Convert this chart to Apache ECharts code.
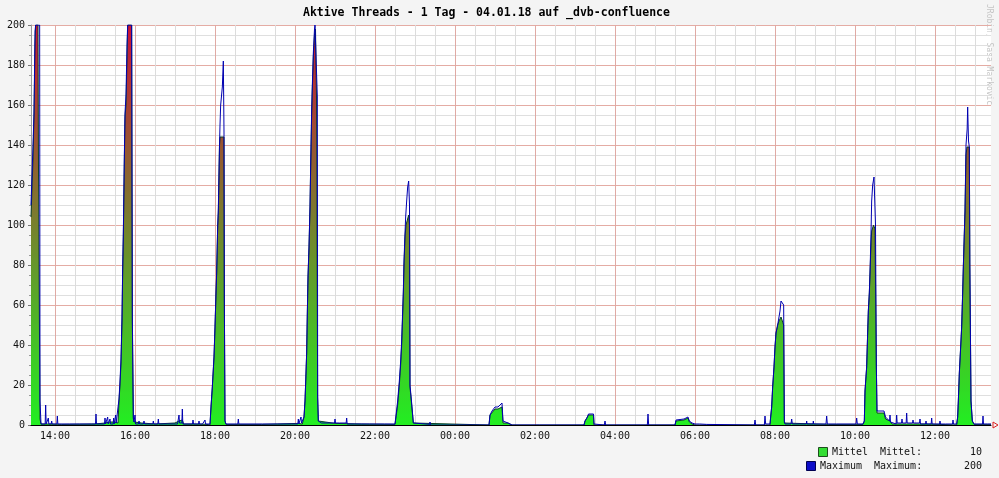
<!DOCTYPE html>
<html>
<head>
<meta charset="utf-8">
<script src="https://cdn.jsdelivr.net/npm/echarts@6/dist/echarts.min.js"></script>
<style>
html,body{margin:0;padding:0;background:#f4f4f4;}
#chart{width:999px;height:478px;}
</style>
</head>
<body>
<div id="chart"></div>
<script>
// time in minutes since 00:00 on 04.01.18 (values > 1440 are on the next day)
const startTime = 804;   // 13:24
const endTime = 2244;    // 13:24 next day
const firstMinorTime = 810;  // 13:30
const firstMajorTime = 840;  // 14:00
const minorStep = 30;
const majorStep = 120;
const titleText = 'Aktive Threads - 1 Tag - 04.01.18 auf _dvb-confluence';

const majorTickTimes = [840, 960, 1080, 1200, 1320, 1440, 1560, 1680, 1800, 1920, 2040, 2160];
const majorTickLabels = ['14:00','16:00','18:00','20:00','22:00','00:00','02:00','04:00','06:00','08:00','10:00','12:00'];

const seriesNames = ['Mittel', 'Maximum'];
const statLabels = ['Mittel:', 'Maximum:'];
const statValues = ['10', '200'];

// Mittel (average) [time, threads]
const mittel = [
  [804,104],[806.25,104],[807,133],[808.5,155],[810,190],[811,200],[814.5,200],[815.25,128],[817,128],[817.5,3],[819,0.5],
  [831,0.5],[850,0.3],[900,0.5],[915,1],[922,1.5],[929,1.5],[931,2],[934.5,1],
  [936,12],[937.5,20],[939,31],[940.5,52],[941.5,76],[942.5,94],[944,132],[945,154],[946.5,160],[948,183],[949,200],[955,200],[956,52],[957.5,3],[959,1.5],
  [970,1],[990,0.5],[1020,1],[1026,2],[1031,2.5],[1033,0.5],[1050,0.5],[1068,0.3],
  [1072.5,0],[1074,9],[1076,19],[1078.5,34],[1080,49],[1081.5,66],[1082.5,76],[1084,99],[1085,106],[1086.75,140],[1087.5,144],[1093.5,144],[1094,64],[1095,2],[1096.5,0.3],
  [1150,0.3],[1205,0.8],[1211,0.5],
  [1212.5,0.5],[1213.5,4],[1215,12],[1216,21],[1217.5,36],[1218.5,56],[1219.5,74],[1221,89],[1222.5,109],[1223.5,129],[1225,155],[1226,168],[1227.5,184],[1229.25,195],[1230.75,198],[1232.25,164],[1233.5,164],[1234,14],[1235,2],[1236,1],
  [1260,0.8],[1300,0.5],[1350,0.3],
  [1352.5,0],[1354,10],[1356.5,20],[1358.5,30],[1360,40],[1361,50],[1362.5,65],[1363.5,80],[1365,94],[1366.5,100],[1370.5,105],[1371.75,100],[1372.5,19],[1375,10],[1377.5,1],[1380,0],
  [1491,0],[1492.5,5],[1495.5,6],[1500,8],[1504.5,8],[1507.5,9],[1510.5,9],[1512,1],[1519.5,1],[1525.5,0],
  [1633.5,0],[1635,2],[1638,3],[1640.25,5],[1647.75,5],[1648.5,0],
  [1770,0],[1771.5,2],[1774.5,2.5],[1783.5,2.5],[1785,3.5],[1789.5,3.5],[1791.5,1.5],[1795.5,0.5],[1800,0],
  [1912.5,0],[1913.5,4],[1915,9],[1916.5,19],[1918.5,29],[1920,39],[1921.5,46],[1924,50],[1926,52],[1929,54],[1931,55],[1933,50],[1934,1],[1935,0.3],
  [2000,0.3],
  [2052,0.3],[2054,2],[2055,17],[2057.5,29],[2059,46],[2060,57],[2061.5,66],[2062.5,76],[2064,90],[2065,97],[2067.75,100],[2070,98],[2070.75,98],[2072,30],[2073,6],[2083.5,6],[2085.75,3],[2092.5,2],[2095.5,0.5],
  [2150,0.5],
  [2192.5,0],[2194,4],[2195,12],[2196.5,26],[2198.5,39],[2200,49],[2201.5,66],[2202.5,79],[2204,96],[2205,107],[2206.5,135],[2208,139],[2211.5,139],[2212.25,81],[2214,12],[2216,2],[2218.5,0.3],[2244,0.3]
];

// Maximum [time, threads]
const maximum = [
  [804,110],[807,140],[808.5,156],[810,197],[811,200],[817,200],[817.5,12],[819,0.5],
  [825.25,0.5],[826,10],[826.75,0.5],[829.25,0.5],[830,3.5],[830.75,0.5],[834.25,0.5],[835,2],[835.75,0.5],[842.75,0.5],[843.5,4.5],[844.25,0.5],
  [862,0.5],[862.5,1],[863,0.5],[877,0.5],[877.5,1],[878,0.5],[894.5,0.5],[895,1.5],[895.5,0.5],[900.75,0.5],[901.5,5.5],[902.25,0.5],
  [914.25,0.5],[915,3.5],[915.75,0.5],[918.25,0.5],[919,4],[919.75,0.5],[921.75,0.5],[922.5,3],[923.25,0.5],[927.25,0.5],[928,3.5],[928.75,0.5],[930.25,0.5],[931,5],[931.75,1],[934.5,2],
  [936,13],[937.5,22],[939,33],[940.5,54],[941.5,78],[942.5,96],[944,134],[945,156],[946.5,165],[948,190],[949,200],[955,200],[956,55],[957.5,4],
  [958.5,1.5],[959.25,0.5],[960,5],[960.75,0.5],[965.25,0.5],[966,2],[966.75,0.5],[972.75,0.5],[973.5,2],[974.25,0.5],[986.75,0.5],[987.5,2],[988.25,0.5],
  [994.25,0.5],[995,3],[995.75,0.5],[1009.25,0.5],[1010,1.5],[1010.75,0.5],[1023.75,0.5],[1024.5,2],[1025.25,1],[1026,5],[1026.75,1],[1030.25,1],[1031,8],[1031.75,0.5],
  [1046.25,0.5],[1047,2.5],[1047.75,0.5],[1049.25,0.5],[1050,1.5],[1050.75,0.5],[1055.25,0.5],[1056,2],[1056.75,0.5],[1061.25,0.5],[1062,1.5],[1062.75,0.5],[1064.25,0.5],[1065,2.5],[1065.75,0.5],
  [1072.5,0.5],[1074,9],[1076,19],[1078.5,34],[1080,49],[1081.5,66],[1082.5,76],[1084,99],[1085,108],[1086.75,140],[1087.5,150],[1088.5,160],[1091,169],[1092.5,182],[1093.5,146],[1094,64],[1095,2],
  [1096.5,0.5],[1114.25,0.5],[1115,3],[1115.75,0.5],[1151.25,0.5],[1152,1.5],[1152.75,0.5],[1173.75,0.5],[1174.5,1.5],[1175.25,0.5],[1194.75,0.5],[1195.5,1.5],[1196.25,0.5],
  [1204.25,0.5],[1205,3],[1205.75,0.5],[1208.25,0.5],[1209,4],[1209.75,1],
  [1212.5,1],[1213.5,4],[1215,12],[1216,21],[1217.5,36],[1218.5,56],[1219.5,74],[1221,89],[1222.5,109],[1223.5,129],[1225,158],[1226,170],[1227.5,186],[1229.25,198],[1230,200],[1232.25,200],[1233.5,164],[1234,14],[1235,2],
  [1236,1],[1239.75,1],[1240.5,2],[1241.25,1],[1251.75,1],[1252.5,2],[1253.25,1],[1259.25,1],[1260,3],[1260.75,1],[1266.75,1],[1267.5,2],[1268.25,1],[1276.75,1],[1277.5,3.5],[1278.25,0.5],
  [1289.25,0.5],[1290,1.5],[1290.75,0.5],[1311.75,0.5],[1312.5,1.5],[1313.25,0.5],[1334.25,0.5],[1335,1.5],[1335.75,0.5],[1350,0.5],
  [1352.5,1],[1354,12],[1356.5,22],[1358.5,32],[1360,42],[1361,52],[1362.5,67],[1363.5,82],[1365,96],[1366,104],[1367.5,112],[1369,119],[1370.5,122],[1371.75,110],[1372.5,20],[1375,11],[1377.5,1],
  [1380,0.3],[1402,0.3],[1402.5,1.5],[1403,0],[1432,0],[1432.5,0.8],[1433,0],[1477,0],[1477.5,0.8],[1478,0],
  [1491,0],[1492.5,5],[1495.5,7],[1500,9],[1504.5,9],[1507.5,10],[1510.5,11],[1512,2],[1519.5,1],[1525.5,0],
  [1567,0],[1567.5,0.8],[1568,0],
  [1633.5,0],[1635,2],[1638,3.5],[1640.25,5.5],[1647.75,5.5],[1648.5,0.5],
  [1664,0],[1665,2],[1666,0],[1728.5,0],[1729.5,5.5],[1730.5,0],
  [1770,0],[1771.5,2.5],[1774.5,3],[1783.5,3],[1785,4],[1789.5,4],[1791.5,2],[1795.5,1],[1800,0.5],
  [1807,0.5],[1807.5,1.5],[1808,0.3],[1817.5,0.3],[1818,1],[1818.5,0],[1889,0],[1890,2.5],[1891,0],[1904,0],[1905,4.5],[1906,0.5],
  [1912.5,0.5],[1913.5,4],[1915,9],[1916.5,19],[1918.5,29],[1920,39],[1921.5,46],[1924,50],[1926,54],[1927.5,57],[1929,62],[1931,63],[1933,60],[1934,2],[1935,0.5],
  [1944,0.5],[1945,3],[1946,0.5],[1957,0.5],[1957.5,1.5],[1958,0.5],[1967,0.5],[1967.5,2],[1968,0.5],[1977,0.5],[1977.5,2],[1978,0.5],
  [1996.5,0.5],[1997.5,4.5],[1998.5,0.5],[2012,0.5],[2012.5,1.5],[2013,0.5],[2022,0.5],[2022.5,1.2],[2023,0.5],[2041.5,0.5],[2042.5,3.5],[2043.5,0.5],
  [2052,0.5],[2054,2],[2055,17],[2057.5,29],[2059,46],[2060,57],[2061.5,66],[2062.5,76],[2064,96],[2065,112],[2066.5,120],[2068.5,124],[2070,123],[2070.75,100],[2072,30],[2073,7],[2083.5,7],[2085.75,4],
  [2091.75,2],[2092.5,5],[2093.25,1.5],[2101.75,0.5],[2102.5,5],[2103.25,1],[2109.75,1],[2110.5,3],[2111.25,1],[2116.75,1],[2117.5,6],[2118.25,1],
  [2126.25,1],[2127,2.5],[2127.75,1],[2136.75,1],[2137.5,3],[2138.25,0.5],[2145.75,0.5],[2146.5,2],[2147.25,0.5],[2154.25,0.5],[2155,3.5],[2155.75,0.5],
  [2166.75,0.5],[2167.5,2],[2168.25,0.5],[2175.75,0.5],[2176.5,1.5],[2177.25,0.5],[2186.25,0.5],[2187,2.5],[2187.75,0.5],
  [2192.5,0.5],[2194,4],[2195,12],[2196.5,26],[2198.5,39],[2200,49],[2201.5,66],[2202.5,79],[2204,96],[2205,107],[2206.5,140],[2208.25,148],[2209,159],[2210.25,142],[2211.5,139],[2212.25,81],[2214,12],[2216,2],[2218.5,0.5],
  [2231.25,0.5],[2232,4.5],[2232.75,0.5],[2238.75,0.5],[2239.5,1.5],[2240.25,0.5],[2244,0.5]
];

const MONO = 'DejaVu Sans Mono';
const chart = echarts.init(document.getElementById('chart'), null, {renderer: 'canvas'});

const plotLeft = 31, plotRight = 8, plotTop = 25, plotBottom = 53;
const pxPerMin = (999 - plotLeft - plotRight) / (endTime - startTime);

const txt = (x, y, text, align) => ({
  type: 'text', x: x, y: y, silent: true,
  style: {text: text, fill: '#111', font: '10px "' + MONO + '"', textAlign: align || 'left', textVerticalAlign: 'middle'}
});

chart.setOption({
  animation: false,
  backgroundColor: '#f4f4f4',
  title: {
    text: titleText, left: 303, top: 7, padding: 0,
    textStyle: {fontFamily: MONO, fontWeight: 'bold', fontSize: 11.5, color: '#000'}
  },
  grid: [
    {left: plotLeft, right: plotRight, top: plotTop, bottom: plotBottom, show: true, backgroundColor: '#ffffff', borderWidth: 0},
    {left: plotLeft + (firstMinorTime - startTime) * pxPerMin, right: plotRight, top: plotTop, bottom: plotBottom, show: false},
    {left: plotLeft + (firstMajorTime - startTime) * pxPerMin, right: plotRight, top: plotTop, bottom: plotBottom, show: false}
  ],
  visualMap: {
    type: 'continuous', show: false, seriesIndex: 0, dimension: 1, min: 0, max: 200,
    inRange: {color: ['#22ee22', '#cc1438']}
  },
  xAxis: [
    {
      type: 'value', gridIndex: 0, min: startTime, max: endTime, position: 'bottom', z: 10,
      axisLine: {show: true, onZero: false, lineStyle: {color: '#000', width: 1}},
      axisTick: {show: false}, axisLabel: {show: false},
      splitLine: {show: false}
    },
    {
      type: 'value', gridIndex: 1, min: firstMinorTime, max: endTime, interval: minorStep,
      axisLine: {show: false}, axisTick: {show: false}, axisLabel: {show: false},
      splitLine: {show: true, showMaxLine: false, lineStyle: {color: '#dcdcdc', width: 1}}
    },
    {
      type: 'value', gridIndex: 2, min: firstMajorTime, max: endTime, interval: majorStep,
      axisLine: {show: false}, axisTick: {show: false},
      axisLabel: {
        show: true, margin: 6, fontFamily: MONO, fontSize: 10, color: '#111', showMaxLabel: false,
        formatter: v => majorTickLabels[majorTickTimes.indexOf(v)] || ''
      },
      splitLine: {show: true, showMaxLine: false, lineStyle: {color: '#e0aaa4', width: 1}}
    }
  ],
  yAxis: [
    {
      type: 'value', gridIndex: 0, min: 0, max: 200, interval: 20,
      axisLine: {show: true, lineStyle: {color: '#9a9a9a'}},
      axisTick: {show: true, length: 3, lineStyle: {color: '#777'}},
      minorTick: {show: true, splitNumber: 4, length: 2, lineStyle: {color: '#999'}},
      axisLabel: {margin: 6, fontFamily: MONO, fontSize: 10, color: '#111'},
      splitLine: {show: true, lineStyle: {color: '#e4aca4', width: 1}},
      minorSplitLine: {show: true, lineStyle: {color: '#dfdfdf', width: 1}}
    },
    {type: 'value', gridIndex: 1, min: 0, max: 200, show: false},
    {type: 'value', gridIndex: 2, min: 0, max: 200, show: false}
  ],
  series: [
    {
      name: seriesNames[0], type: 'line', xAxisIndex: 0, yAxisIndex: 0, data: mittel,
      showSymbol: false, symbol: 'none', z: 2,
      lineStyle: {color: '#0b3d2a', width: 1},
      areaStyle: {opacity: 1}
    },
    {
      name: seriesNames[1], type: 'line', xAxisIndex: 0, yAxisIndex: 0, data: maximum,
      showSymbol: false, symbol: 'none', z: 3,
      lineStyle: {color: '#0000b0', width: 1}
    }
  ],
  graphic: [
    {type: 'polyline', silent: true, z: 10, shape: {points: [[993, 422], [998, 425], [993, 428], [993, 422]]},
      style: {stroke: '#dd2222', fill: 'none', lineWidth: 1}},
    {type: 'text', x: 993, y: 4, rotation: -Math.PI / 2, silent: true,
      style: {text: 'JRobin, Sasa Markovic', fill: '#c4c4c4', font: '8px "' + MONO + '"', textAlign: 'left', textVerticalAlign: 'top'}},
    {type: 'rect', silent: true, shape: {x: 818.5, y: 447.5, width: 9, height: 9},
      style: {fill: '#33dd33', stroke: '#1d4d1d', lineWidth: 1}},
    txt(832, 452, seriesNames[0]),
    txt(880, 452, statLabels[0]),
    txt(982, 452, statValues[0], 'right'),
    {type: 'rect', silent: true, shape: {x: 806.5, y: 461.5, width: 9, height: 9},
      style: {fill: '#0c0cc8', stroke: '#000050', lineWidth: 1}},
    txt(820, 466, seriesNames[1]),
    txt(874, 466, statLabels[1]),
    txt(982, 466, statValues[1], 'right')
  ]
});
</script>
</body>
</html>
